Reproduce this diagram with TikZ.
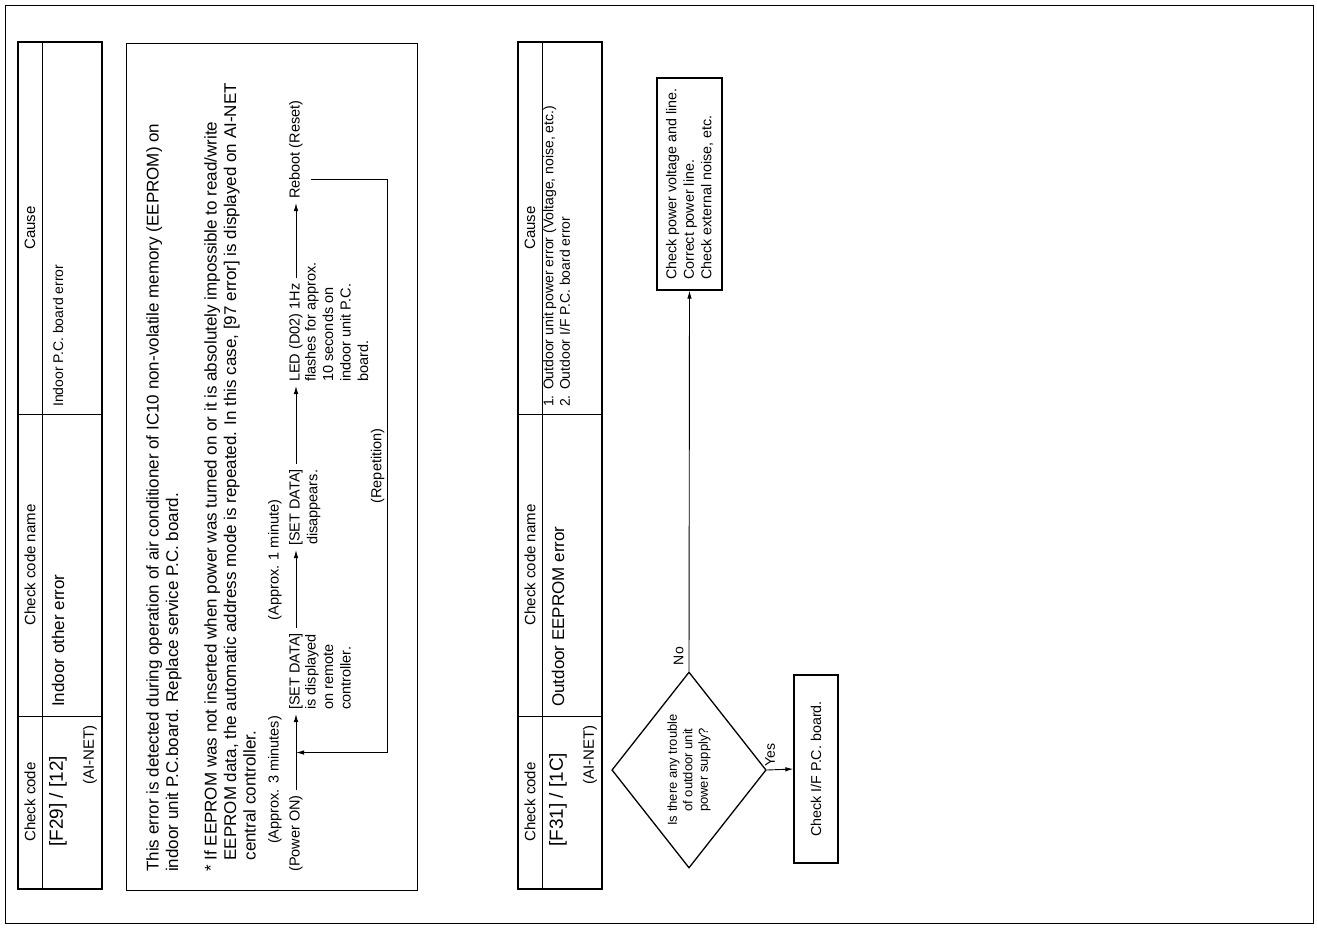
\documentclass[tikz,border=0pt]{standalone}
\usepackage{fontspec}
\setmainfont{Liberation Sans}
\usetikzlibrary{arrows.meta,shapes.geometric,calc}

\begin{document}
\begin{tikzpicture}[
	x=1pt, y=-1pt,
	frame/.style={draw, line width=0.9pt},
	tbl/.style={draw, line width=2pt},
	rule/.style={line width=0.9pt},
	txt/.style={rotate=90, inner sep=0pt},
	hdr/.style={txt, font=\fontsize{15}{17}\selectfont},
	big/.style={txt, font=\fontsize{19}{22}\selectfont},
	errname/.style={txt, font=\fontsize{17}{20}\selectfont},
	small/.style={txt, font=\fontsize{14}{16.5}\selectfont},
	body/.style={txt, anchor=north west, align=left, font=\fontsize{17}{19.5}\selectfont},
	flow/.style={txt, font=\fontsize{14.5}{17.5}\selectfont, execute at begin node=\strut},
	box/.style={draw, line width=1.3pt, rotate=90, font=\fontsize{14.3}{17.5}\selectfont},
	decision/.style={draw, diamond, line width=1.3pt, rotate=90, align=center,
		inner sep=0pt, minimum width=196pt, minimum height=116pt,
		font=\fontsize{13}{15.5}\selectfont},
	arrow/.style={-{Latex[length=8pt,width=4.5pt]}, line width=0.9pt},
	flowarrow/.style={arrow, shorten <=5pt, shorten >=4pt}
	]
	
	\useasboundingbox (0,0) rectangle (1317,927);
	\draw[frame] (5,5) rectangle (1313,923);
	
	% F29 table
	\draw[tbl] (18,42) rectangle (102,889);
	\draw[rule] (42,42) -- (42,889);
	\draw[rule] (18,716) -- (102,716);
	\draw[rule] (18,414) -- (102,414);
	\node[hdr] (code_head_a) at (30,802) {Check code};
	\node[hdr] (name_head_a) at (30,565) {Check code name};
	\node[hdr] (cause_head_a) at (30,228) {Cause};
	\node[big, anchor=west] (code_a) at (58,847) {[F29] / [12]};
	\node[hdr, anchor=east] (net_a) at (90,725) {(AI-NET)};
	\node[errname, anchor=west] (name_a) at (58,707) {Indoor other error};
	\node[small, anchor=west] (cause_a) at (58,407) {Indoor P.C. board error};
	
	% F29 explanation
	\draw[frame] (126,43) rectangle (417,890);
	\node[body] (intro) at (146,872)
	{This error is detected during operation of air conditioner of IC10 non-volatile memory (EEPROM) on\\
	indoor unit P.C.board. Replace service P.C. board.};
	\node[body] (note) at (204,872)
	{* If EEPROM was not inserted when power was turned on or it is absolutely impossible to read/write\\
	\hspace*{0.67em}EEPROM data, the automatic address mode is repeated. In this case, [97 error] is displayed on AI-NET\\
	\hspace*{0.67em}central controller.};
	
	% sequence
	\node[flow] (approx_three) at (275,780) {(Approx. 3 minutes)};
	\node[flow] (approx_one) at (275,560) {(Approx. 1 minute)};
	\node[flow, anchor=west] (power_on) at (296,872) {(Power ON)};
	\node[flow, anchor=west] (set_shown) at (296,710) {[SET DATA]};
	\node[flow, anchor=north west, align=left] (set_shown_b) at (set_shown.south west)
	{is displayed\\on remote\\controller.};
	\node[flow, anchor=west] (set_gone) at (296,546) {[SET DATA]};
	\node[flow, anchor=north] (set_gone_b) at (set_gone.south) {disappears.};
	\node[flow, anchor=west] (led) at (296,382) {LED (D02) 1Hz};
	\node[flow, anchor=north west, align=left] (led_b) at (led.south west)
	{flashes for approx.\\10 seconds on\\indoor unit P.C.\\board.};
	\node[flow, anchor=west] (reboot) at (296,199) {Reboot (Reset)};
	
	\draw[flowarrow] (power_on) -- (set_shown);
	\draw[flowarrow] (set_shown) -- (set_gone);
	\draw[flowarrow] (set_gone) -- (led);
	\draw[flowarrow] (led) -- (reboot);
	
	% repetition loop
	\coordinate (loop_out) at ([xshift=6pt]$(reboot.south west)!.2!(reboot.south east)$);
	\coordinate (loop_in) at ($(power_on.east)!.5!(set_shown.west)$);
	\draw[arrow] (loop_out) -| ([xshift=91pt]loop_in)
	node[flow, pos=0.75, anchor=south] (repetition) {(Repetition)}
	-- (loop_in);
	
	% F31 table
	\draw[tbl] (518,42) rectangle (602,889);
	\draw[rule] (542,42) -- (542,889);
	\draw[rule] (518,716) -- (602,716);
	\draw[rule] (518,414) -- (602,414);
	\node[hdr] (code_head_b) at (530,802) {Check code};
	\node[hdr] (name_head_b) at (530,565) {Check code name};
	\node[hdr] (cause_head_b) at (530,228) {Cause};
	\node[big, anchor=west] (code_b) at (558,847) {[F31] / [1C]};
	\node[hdr, anchor=east] (net_b) at (590,725) {(AI-NET)};
	\node[errname, anchor=west] (name_b) at (558,707) {Outdoor EEPROM error};
	\node[small, anchor=north west, align=left] (cause_b) at (543,407)
	{1. Outdoor unit power error (Voltage, noise, etc.)\\2. Outdoor I/F P.C. board error};
	
	% F31 flowchart
	\node[decision] (supply) at (689,770)
	{Is there any trouble\\of outdoor unit\\power supply?};
	\node[box, align=left, minimum width=212pt, minimum height=65pt] (fix_power) at (689.5,184)
	{Check power voltage and line.\\Correct power line.\\Check external noise, etc.};
	\node[box, align=center, minimum width=188pt, minimum height=44pt] (check_if) at (816,769)
	{Check I/F P.C. board.};
	
	\draw[arrow] (supply.east) -- (fix_power.west)
	node[small, pos=0.04, anchor=south, inner sep=5pt] (no) {No};
	\draw[arrow] (supply.south) -- (check_if.north)
	node[small, pos=0.12, anchor=west, inner sep=3pt] (yes) {Yes};
	
\end{tikzpicture}
\end{document}
